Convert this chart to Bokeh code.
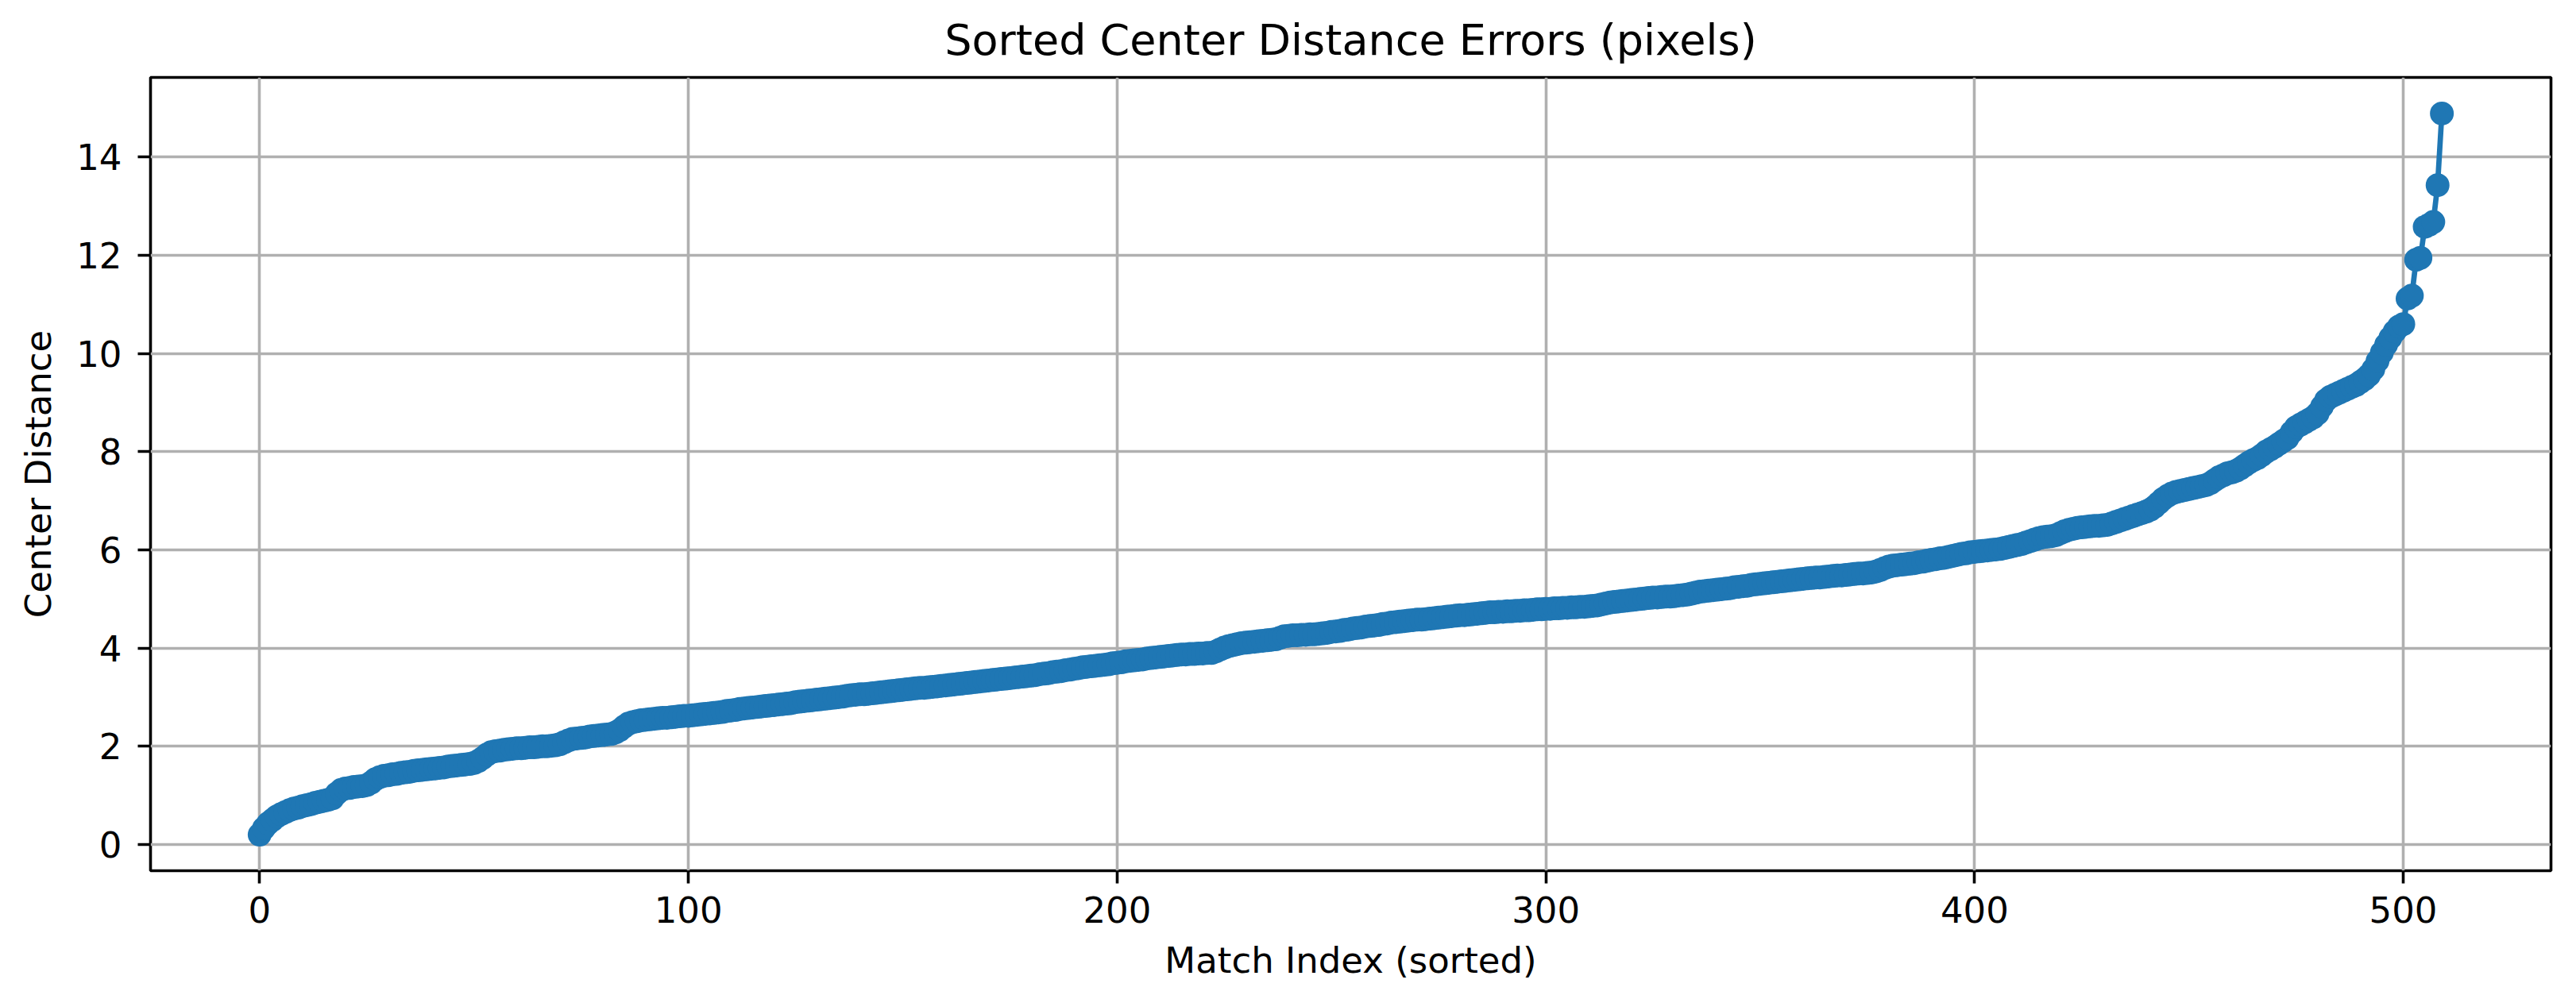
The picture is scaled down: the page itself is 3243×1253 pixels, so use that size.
from bokeh.plotting import figure
from bokeh.models import Range1d, FixedTicker, ColumnDataSource
from bokeh.embed import file_html
from bokeh.resources import INLINE

title_text = "Sorted Center Distance Errors (pixels)"
x_label = "Match Index (sorted)"
y_label = "Center Distance"
x_ticks = [0, 100, 200, 300, 400, 500]
y_ticks = [0, 2, 4, 6, 8, 10, 12, 14]

# sorted center-distance errors, index 0..509
distances = [
    0.20, 0.33, 0.43, 0.50, 0.57, 0.62, 0.66, 0.70, 0.73, 0.75,
    0.78, 0.80, 0.82, 0.85, 0.87, 0.89, 0.91, 0.94, 1.04, 1.11,
    1.14, 1.15, 1.17, 1.18, 1.19, 1.21, 1.26, 1.33, 1.37, 1.40,
    1.41, 1.43, 1.44, 1.46, 1.47, 1.48, 1.50, 1.51, 1.52, 1.53,
    1.54, 1.55, 1.56, 1.57, 1.59, 1.60, 1.61, 1.62, 1.63, 1.64,
    1.66, 1.70, 1.76, 1.83, 1.88, 1.90, 1.91, 1.93, 1.94, 1.95,
    1.96, 1.96, 1.97, 1.98, 1.98, 1.99, 2.00, 2.00, 2.01, 2.02,
    2.04, 2.08, 2.12, 2.15, 2.16, 2.17, 2.18, 2.20, 2.21, 2.22,
    2.23, 2.24, 2.25, 2.28, 2.33, 2.40, 2.46, 2.49, 2.51, 2.53,
    2.54, 2.55, 2.56, 2.57, 2.58, 2.58, 2.59, 2.60, 2.61, 2.62,
    2.62, 2.63, 2.64, 2.65, 2.66, 2.67, 2.68, 2.69, 2.70, 2.72,
    2.73, 2.74, 2.76, 2.77, 2.78, 2.79, 2.80, 2.81, 2.82, 2.83,
    2.84, 2.85, 2.86, 2.87, 2.88, 2.90, 2.91, 2.92, 2.93, 2.94,
    2.95, 2.96, 2.97, 2.98, 2.99, 3.00, 3.01, 3.03, 3.04, 3.05,
    3.06, 3.06, 3.07, 3.08, 3.09, 3.10, 3.11, 3.12, 3.13, 3.14,
    3.15, 3.16, 3.17, 3.18, 3.19, 3.19, 3.20, 3.21, 3.22, 3.23,
    3.24, 3.25, 3.26, 3.27, 3.28, 3.29, 3.30, 3.31, 3.32, 3.33,
    3.34, 3.35, 3.36, 3.37, 3.38, 3.39, 3.40, 3.41, 3.42, 3.43,
    3.44, 3.45, 3.47, 3.48, 3.49, 3.51, 3.52, 3.53, 3.55, 3.56,
    3.58, 3.59, 3.61, 3.62, 3.63, 3.64, 3.65, 3.66, 3.67, 3.69,
    3.70, 3.71, 3.73, 3.74, 3.75, 3.76, 3.77, 3.79, 3.80, 3.81,
    3.82, 3.83, 3.84, 3.85, 3.86, 3.87, 3.87, 3.88, 3.88, 3.89,
    3.89, 3.90, 3.90, 3.93, 3.97, 4.01, 4.04, 4.06, 4.08, 4.10,
    4.11, 4.12, 4.13, 4.14, 4.15, 4.16, 4.17, 4.18, 4.21, 4.24,
    4.25, 4.26, 4.26, 4.27, 4.27, 4.28, 4.28, 4.29, 4.30, 4.31,
    4.33, 4.34, 4.35, 4.37, 4.38, 4.40, 4.41, 4.42, 4.44, 4.45,
    4.46, 4.47, 4.49, 4.50, 4.52, 4.53, 4.54, 4.55, 4.56, 4.57,
    4.58, 4.58, 4.59, 4.60, 4.61, 4.62, 4.63, 4.64, 4.65, 4.66,
    4.67, 4.67, 4.68, 4.69, 4.70, 4.71, 4.72, 4.73, 4.73, 4.74,
    4.74, 4.75, 4.75, 4.76, 4.76, 4.77, 4.77, 4.78, 4.79, 4.79,
    4.80, 4.80, 4.81, 4.81, 4.82, 4.82, 4.83, 4.83, 4.84, 4.84,
    4.85, 4.86, 4.87, 4.89, 4.91, 4.93, 4.94, 4.95, 4.96, 4.97,
    4.98, 4.99, 5.00, 5.01, 5.02, 5.03, 5.03, 5.04, 5.05, 5.05,
    5.06, 5.07, 5.08, 5.09, 5.11, 5.13, 5.15, 5.16, 5.17, 5.18,
    5.19, 5.20, 5.21, 5.22, 5.24, 5.25, 5.26, 5.27, 5.29, 5.30,
    5.31, 5.32, 5.33, 5.34, 5.35, 5.36, 5.37, 5.38, 5.39, 5.40,
    5.41, 5.42, 5.43, 5.44, 5.44, 5.45, 5.46, 5.47, 5.48, 5.48,
    5.49, 5.50, 5.51, 5.52, 5.52, 5.53, 5.54, 5.56, 5.59, 5.63,
    5.66, 5.68, 5.69, 5.70, 5.71, 5.72, 5.73, 5.75, 5.76, 5.78,
    5.80, 5.81, 5.83, 5.84, 5.86, 5.88, 5.90, 5.92, 5.93, 5.95,
    5.96, 5.97, 5.98, 5.99, 6.00, 6.01, 6.02, 6.04, 6.06, 6.08,
    6.10, 6.12, 6.15, 6.18, 6.21, 6.24, 6.26, 6.27, 6.28, 6.30,
    6.34, 6.38, 6.41, 6.43, 6.45, 6.46, 6.47, 6.48, 6.49, 6.49,
    6.50, 6.51, 6.54, 6.57, 6.60, 6.63, 6.66, 6.69, 6.72, 6.75,
    6.78, 6.82, 6.88, 6.96, 7.04, 7.10, 7.15, 7.18, 7.20, 7.22,
    7.24, 7.26, 7.28, 7.30, 7.32, 7.36, 7.42, 7.48, 7.52, 7.56,
    7.58, 7.61, 7.66, 7.72, 7.78, 7.83, 7.87, 7.93, 8.00, 8.05,
    8.10, 8.16, 8.22, 8.28, 8.40, 8.50, 8.55, 8.60, 8.65, 8.70,
    8.78, 8.92, 9.05, 9.12, 9.16, 9.20, 9.24, 9.28, 9.32, 9.36,
    9.42, 9.48, 9.56, 9.68, 9.85, 10.02, 10.18, 10.32, 10.45, 10.55,
    10.60, 11.12, 11.18, 11.91, 11.95, 12.58, 12.62, 12.68, 13.43, 14.89,
]
match_index = list(range(len(distances)))

line_color = "#1f77b4"
font = "DejaVu Sans"

src = ColumnDataSource(data=dict(x=match_index, y=distances))

n = len(distances)
xpad = 0.05 * (n - 1)
ymin, ymax = min(distances), max(distances)
ypad = 0.05 * (ymax - ymin)

p = figure(
    frame_width=3022, frame_height=999,
    min_border_left=189, min_border_right=24,
    min_border_top=97, min_border_bottom=140,
    x_range=Range1d(-xpad, (n - 1) + xpad),
    y_range=Range1d(ymin - ypad, ymax + ypad),
    output_backend="svg", toolbar_location=None,
    background_fill_color="white", border_fill_color="white",
)

p.line("x", "y", source=src, line_color=line_color, line_width=6.75)
p.scatter("x", "y", source=src, size=30, fill_color=line_color,
          line_color=line_color, line_width=0)

p.title.text = title_text
p.title.align = "center"
p.title.text_font = font
p.title.text_font_size = "54px"
p.title.text_font_style = "normal"
p.title.text_color = "black"
p.title.standoff = 32

p.outline_line_color = "black"
p.outline_line_width = 3.6
p.outline_line_alpha = 1.0

for ax in (p.xaxis[0], p.yaxis[0]):
    ax.axis_line_color = None
    ax.major_tick_line_color = "black"
    ax.major_tick_line_width = 3.6
    ax.major_tick_out = 16
    ax.major_tick_in = 0
    ax.minor_tick_line_color = None
    ax.major_label_text_font = font
    ax.major_label_text_font_size = "45px"
    ax.major_label_text_color = "black"
    ax.axis_label_text_font = font
    ax.axis_label_text_font_size = "45px"
    ax.axis_label_text_font_style = "normal"
    ax.axis_label_text_color = "black"

p.xaxis[0].ticker = FixedTicker(ticks=x_ticks)
p.yaxis[0].ticker = FixedTicker(ticks=y_ticks)
p.xaxis[0].axis_label = x_label
p.yaxis[0].axis_label = y_label
p.xaxis[0].major_label_standoff = 16
p.yaxis[0].major_label_standoff = 20
p.xaxis[0].axis_label_standoff = 18
p.yaxis[0].axis_label_standoff = 18

for g in (p.xgrid[0], p.ygrid[0]):
    g.grid_line_color = "#b0b0b0"
    g.grid_line_width = 3.6
p.xgrid[0].ticker = FixedTicker(ticks=x_ticks)
p.ygrid[0].ticker = FixedTicker(ticks=y_ticks)

open("out.html", "w").write(file_html(p, INLINE))
